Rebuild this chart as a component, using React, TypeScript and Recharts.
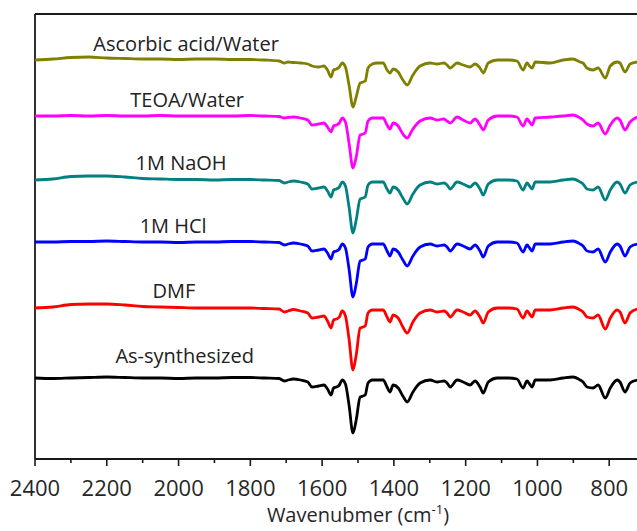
import React from "react";
import {
  Line,
  LineChart,
  ReferenceDot,
  ReferenceLine,
  XAxis,
  YAxis,
  Label,
} from "recharts";

const FONT = "'Open Sans', 'Noto Sans', sans-serif";

// wavenumber grid, cm-1 (descending)
const WAVENUMBERS = [
  2400, 2350, 2300, 2250, 2200, 2150, 2100, 2050, 2000, 1950,
  1900, 1850, 1800, 1760, 1720, 1705, 1695, 1680, 1660, 1640,
  1628, 1610, 1595, 1585, 1575, 1568, 1560, 1552, 1544, 1535,
  1525, 1514, 1505, 1494, 1486, 1480, 1472, 1460, 1447, 1430,
  1419, 1411, 1402, 1388, 1375, 1363, 1347, 1327, 1299, 1280,
  1260, 1252, 1243, 1224, 1207, 1188, 1174, 1160, 1151, 1137,
  1112, 1080, 1057, 1040, 1029, 1022, 1015, 1006, 965, 928,
  901, 881, 873, 862, 845, 831, 811, 797, 778, 770,
  756, 742, 722,
];

// transmittance (a.u., stacked)
const ASCORBIC_WATER = [
  399, 400, 401.5, 402, 401, 400.5, 400, 400, 399.5, 400,
  400, 399.5, 399.5, 399, 398, 396, 397, 396.5, 396, 395,
  393, 392, 393, 389, 382, 389, 390, 392, 396, 392,
  374, 352, 362, 376, 377, 378, 391, 395, 396, 396,
  389, 386, 390, 387, 379, 374, 384, 393, 396, 395,
  396, 394, 391, 396, 394, 392, 395, 391, 386, 396,
  399, 399, 398, 389, 396, 393, 391, 397, 396, 399,
  400, 397, 396, 391, 389, 391, 381, 393, 397, 396,
  387, 395, 397,
];

const TEOA_WATER = [
  343, 343, 343.5, 343, 343.5, 343, 343, 343.5, 343, 343,
  343, 343, 343.5, 343, 342.5, 341, 341.5, 342, 341, 339,
  334, 335, 336, 332, 327, 333, 334, 336, 341, 337,
  316, 291, 302, 324, 325, 326, 338, 341, 341, 341,
  334, 330, 336, 333, 325, 321, 330, 338, 341, 339,
  340, 338, 336, 342, 339, 336, 340, 334, 329, 339,
  343, 343, 342, 333, 340, 337, 334, 341, 342, 343,
  344, 341, 339, 335, 333, 336, 325, 334, 341, 339,
  329, 337, 342,
];

const NAOH_1M = [
  279, 280, 282.5, 283, 283, 282, 280.5, 280, 279.5, 279.5,
  279, 279.5, 279.5, 279, 278.5, 276, 277, 278, 277, 275,
  270, 271, 272, 268, 262, 269, 270, 272, 277, 273,
  252, 226, 239, 260, 261, 262, 274, 277, 277, 277,
  270, 266, 272, 269, 261, 255, 265, 274, 277, 275,
  276, 274, 270, 277, 275, 272, 276, 270, 264, 275,
  279, 279, 278, 269, 276, 273, 270, 277, 277, 279,
  280, 277, 275, 270, 269, 272, 259, 269, 277, 275,
  266, 274, 277,
];

const HCL_1M = [
  217, 217, 217.5, 217.5, 218, 217.5, 217, 217, 216.5, 217,
  217, 217.5, 217.5, 217, 216.5, 214, 215, 216, 215, 213,
  208, 209, 210, 206, 200, 207, 208, 210, 215, 211,
  190, 162, 175, 198, 199, 200, 212, 215, 215, 215,
  208, 203, 210, 207, 199, 193, 203, 212, 215, 213,
  214, 212, 208, 215, 213, 210, 214, 208, 202, 213,
  217, 217, 216, 207, 214, 211, 208, 215, 215, 217,
  218, 215, 213, 208, 207, 210, 197, 207, 215, 213,
  203, 212, 215,
];

const DMF = [
  151, 152, 154.5, 155, 155, 154, 152.5, 152, 151.5, 151,
  151, 151, 151, 150.5, 150, 147, 148, 149.5, 148, 146,
  141, 142, 143, 138, 131, 139, 140, 142, 148, 143,
  120, 89, 104, 131, 132, 133, 146, 149, 149, 149,
  142, 137, 144, 141, 132, 126, 137, 146, 149, 147,
  148, 146, 142, 149, 147, 144, 148, 142, 136, 147,
  151, 151, 150, 141, 148, 145, 142, 149, 149, 151,
  152, 149, 147, 142, 141, 144, 130, 141, 149, 147,
  136, 146, 150,
];

const AS_SYNTHESIZED = [
  81, 80.5, 81, 81.5, 82, 81.5, 81, 81, 80.5, 81,
  81, 81.5, 81.5, 81, 80.5, 78, 79, 80, 79, 77,
  72, 73, 74, 70, 64, 71, 72, 74, 79, 75,
  54, 26, 39, 62, 63, 64, 76, 79, 79, 79,
  72, 67, 74, 71, 63, 57, 67, 76, 79, 77,
  78, 76, 72, 79, 77, 74, 78, 72, 66, 77,
  81, 81, 80, 71, 78, 75, 72, 79, 79, 81,
  82, 79, 77, 72, 71, 74, 61, 71, 79, 77,
  67, 76, 79,
];

const X_TICKS = [700, 800, 900, 1000, 1100, 1200, 1300, 1400, 1500,
  1600, 1700, 1800, 1900, 2000, 2100, 2200, 2300, 2400];

const SERIES = [
  { key: "asc", name: "Ascorbic acid/Water", color: "#808000", values: ASCORBIC_WATER },
  { key: "teoa", name: "TEOA/Water", color: "#ff00ff", values: TEOA_WATER },
  { key: "naoh", name: "1M NaOH", color: "#008080", values: NAOH_1M },
  { key: "hcl", name: "1M HCl", color: "#0000ff", values: HCL_1M },
  { key: "dmf", name: "DMF", color: "#ff0000", values: DMF },
  { key: "as", name: "As-synthesized", color: "#000000", values: AS_SYNTHESIZED },
];

// where each trace name sits (wavenumber, transmittance)
const LABEL_WN = [1979, 1976, 1993, 2015, 2013, 1983];
const LABEL_T = [415, 359, 296, 233, 168, 103];

const data = WAVENUMBERS.map((wn, i) => {
  const row: Record<string, number> = { wn };
  SERIES.forEach((s) => {
    row[s.key] = s.values[i];
  });
  return row;
});

function WnTick(props: any) {
  const { x, y, payload } = props;
  const v = payload.value as number;
  const major = v % 200 === 0;
  return (
    <g>
      <line x1={x} x2={x} y1={y} y2={y + (major ? 7 : 4)} stroke="#1a1a1a" strokeWidth={1.6} />
      {major && (
        <text x={x} y={y + 37} textAnchor="middle" fontSize={22} fontFamily={FONT} fill="#262626">
          {v}
        </text>
      )}
    </g>
  );
}

function AxisTitle(props: any) {
  const { x, y, width } = props.viewBox;
  return (
    <text x={x + width / 2} y={y + 63} textAnchor="middle" fontSize={20} fontFamily={FONT} fill="#262626">
      <tspan>Wavenubmer (cm</tspan>
      <tspan dy={-8} fontSize={13}>-1</tspan>
      <tspan dy={8}>)</tspan>
    </text>
  );
}

export default function App() {
  return (
    <div
      style={{
        position: "absolute",
        left: 0,
        top: 0,
        width: 637,
        height: 531,
        overflow: "hidden",
        background: "#fff",
      }}
    >
      <LineChart
        width={701}
        height={531}
        data={data}
        margin={{ top: 14, right: 20, left: 35, bottom: 0 }}
      >
        <XAxis
          dataKey="wn"
          type="number"
          domain={[600, 2400]}
          reversed
          ticks={X_TICKS}
          interval={0}
          tickSize={0}
          tickMargin={0}
          tick={<WnTick />}
          axisLine={{ stroke: "#1a1a1a", strokeWidth: 1.8 }}
          height={72}
        >
          <Label content={<AxisTitle />} />
        </XAxis>
        <YAxis type="number" domain={[0, 445]} hide />
        {/* frame: top and left edges */}
        <ReferenceLine y={445} stroke="#1a1a1a" strokeWidth={1.8} />
        <ReferenceLine x={2400} stroke="#1a1a1a" strokeWidth={1.8} />
        {SERIES.map((s) => (
          <Line
            key={s.key}
            dataKey={s.key}
            name={s.name}
            type="monotone"
            stroke={s.color}
            strokeWidth={2.8}
            strokeLinejoin="round"
            dot={false}
            isAnimationActive={false}
          />
        ))}
        {SERIES.map((s, i) => (
          <ReferenceDot
            key={"lbl-" + s.key}
            x={LABEL_WN[i]}
            y={LABEL_T[i]}
            r={0}
            fill="none"
            stroke="none"
            label={{
              value: s.name,
              position: "center",
              fill: "#222",
              fontSize: 20,
              fontFamily: FONT,
            }}
          />
        ))}
      </LineChart>
    </div>
  );
}
